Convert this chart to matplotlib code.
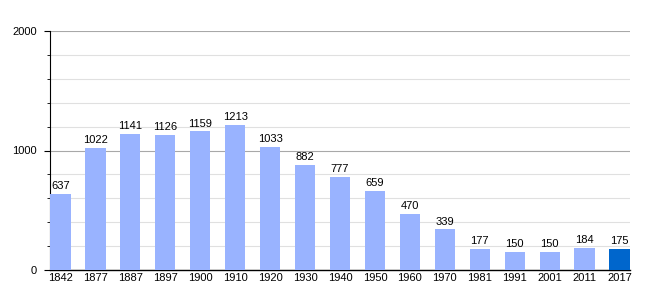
import numpy as np
import matplotlib
matplotlib.use('Agg')
import matplotlib.pyplot as plt

years = ['1842', '1877', '1887', '1897', '1900', '1910', '1920', '1930', '1940',
         '1950', '1960', '1970', '1981', '1991', '2001', '2011', '2017']
pop = [637, 1022, 1141, 1126, 1159, 1213, 1033, 882, 777,
       659, 470, 339, 177, 150, 150, 184, 175]

plt.rcParams['font.family'] = ['Liberation Sans', 'DejaVu Sans']

fig = plt.figure(figsize=(6.6, 3.0), dpi=100)
ax = fig.add_axes([50/660, 30/300, 580/660, 239/300])

x = np.arange(len(years))
colors = ['#99b3ff'] * (len(years) - 1) + ['#0066cc']
ax.bar(x, pop, width=0.58, color=colors, zorder=3)

for xi, v in zip(x, pop):
    ax.text(xi, v + 25, str(v), ha='center', va='bottom', fontsize=8, zorder=4)

ax.set_xlim(-0.3, len(years) - 1 + 0.3)
ax.set_ylim(0, 2000)
ax.set_yticks([0, 1000, 2000])
ax.set_yticks(np.arange(200, 2000, 200), minor=True)
ax.set_xticks(x)
ax.set_xticklabels(years)

ax.grid(axis='y', which='major', color='#a8a8a8', linewidth=0.8, zorder=0)
ax.grid(axis='y', which='minor', color='#e0e0e0', linewidth=0.8, zorder=0)

for s in ['top', 'right']:
    ax.spines[s].set_visible(False)
ax.spines['left'].set_linewidth(0.8)
ax.spines['bottom'].set_linewidth(1.0)

ax.tick_params(axis='y', which='major', length=4.5, labelsize=8, pad=5)
ax.tick_params(axis='y', which='minor', length=2.5)
ax.tick_params(axis='x', length=0, labelsize=8, pad=2)

fig.savefig('out.png', dpi=100)
